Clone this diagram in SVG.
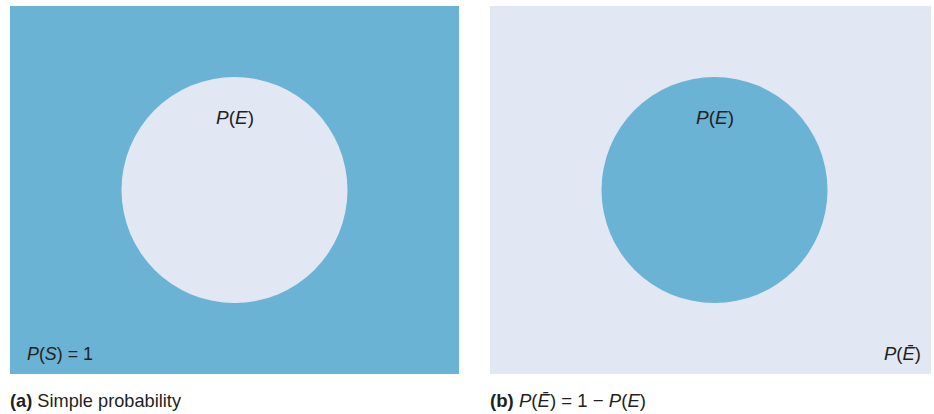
<svg xmlns="http://www.w3.org/2000/svg" width="934" height="414" viewBox="0 0 934 414">
<style>
.blue{fill:#6ab3d4}
.light{fill:#e1e8f4}
text{font-family:"Liberation Sans","Arial",sans-serif;font-size:19px;fill:#231f20}
.it{font-style:italic}
.b{font-weight:bold}
</style>
<rect width="934" height="414" fill="#ffffff"/>
<g id="panel-a">
<rect class="blue" x="10" y="6" width="449" height="368"/>
<circle class="light" cx="234.5" cy="190" r="113"/>
<text x="216" y="124" textLength="38" lengthAdjust="spacingAndGlyphs"><tspan class="it">P</tspan>(<tspan class="it">E</tspan>)</text>
<text x="27" y="360" textLength="66" lengthAdjust="spacingAndGlyphs"><tspan class="it">P</tspan>(<tspan class="it">S</tspan>) = 1</text>
</g>
<g id="panel-b">
<rect class="light" x="490" y="6" width="441" height="368"/>
<circle class="blue" cx="714.5" cy="190" r="113"/>
<text x="696" y="124" textLength="38" lengthAdjust="spacingAndGlyphs"><tspan class="it">P</tspan>(<tspan class="it">E</tspan>)</text>
<text x="884" y="360" textLength="37" lengthAdjust="spacingAndGlyphs"><tspan class="it">P</tspan>(<tspan class="it">Ē</tspan>)</text>
</g>
<g id="captions">
<text x="10" y="407" textLength="171" lengthAdjust="spacingAndGlyphs"><tspan class="b">(a)</tspan> Simple probability</text>
<text x="490" y="407" textLength="156" lengthAdjust="spacingAndGlyphs"><tspan class="b">(b)</tspan> <tspan class="it">P</tspan>(<tspan class="it">Ē</tspan>) = 1 − <tspan class="it">P</tspan>(<tspan class="it">E</tspan>)</text>
</g>
<g id="connectors"/>
</svg>
